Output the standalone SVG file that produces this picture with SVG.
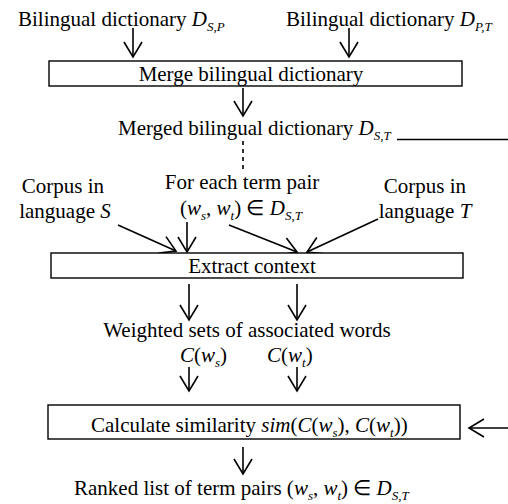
<svg xmlns="http://www.w3.org/2000/svg" width="508" height="504" viewBox="0 0 508 504">
<defs>
<style>
text{font-family:"Liberation Serif","Times New Roman",serif;font-size:21px;fill:#000}
.i{font-style:italic}
.sub{font-size:13px;font-style:italic}
.m{text-anchor:middle}
.box{fill:#fff;stroke:#000;stroke-width:1.4}
.c{stroke:#000;stroke-width:1.6;fill:none}
.a{marker-end:url(#ah)}
</style>
<marker id="ah" viewBox="-16 -10 18 20" markerWidth="18" markerHeight="20" refX="0" refY="0" orient="auto" markerUnits="userSpaceOnUse" overflow="visible">
<path d="M-15,-9 L0,0 L-15,9" fill="none" stroke="#000" stroke-width="1.6"/>
</marker>
</defs>
<rect width="508" height="504" fill="#fff"/>
<g id="connectors">
<line class="c a" x1="133" y1="28" x2="133" y2="57"/>
<line class="c a" x1="349" y1="28" x2="349" y2="57"/>
<line class="c a" x1="243" y1="88" x2="243" y2="116"/>
<line class="c" x1="397" y1="139.5" x2="508" y2="139.5"/>
<line class="c" x1="243" y1="141" x2="243" y2="172" stroke-dasharray="4,4"/>
<line class="c a" x1="118" y1="225" x2="176" y2="251"/>
<line class="c a" x1="187" y1="222" x2="187" y2="252"/>
<line class="c a" x1="229" y1="225" x2="297" y2="252"/>
<line class="c a" x1="378" y1="219" x2="307" y2="252"/>
<line class="c a" x1="189" y1="284" x2="189" y2="320"/>
<line class="c a" x1="297" y1="284" x2="297" y2="320"/>
<line class="c a" x1="189" y1="367" x2="189" y2="391"/>
<line class="c a" x1="297" y1="367" x2="297" y2="391"/>
<line class="c a" x1="508" y1="428" x2="469" y2="428"/>
<line class="c a" x1="243" y1="447" x2="243" y2="474"/>
</g>
<g id="dict-sp"><text x="18" y="26">Bilingual dictionary <tspan class="i">D</tspan><tspan class="sub" dy="5">S,P</tspan></text></g>
<g id="dict-pt"><text x="286" y="26">Bilingual dictionary <tspan class="i">D</tspan><tspan class="sub" dy="5">P,T</tspan></text></g>
<g id="merge"><rect class="box" x="49" y="61" width="413" height="25"/><text class="m" x="251" y="81">Merge bilingual dictionary</text></g>
<g id="merged"><text x="118" y="135">Merged bilingual dictionary <tspan class="i">D</tspan><tspan class="sub" dy="5">S,T</tspan></text></g>
<g id="corpus-s"><text class="m" x="63" y="193">Corpus in</text><text class="m" x="65" y="218">language <tspan class="i">S</tspan></text></g>
<g id="term-pair"><text class="m" x="242" y="189">For each term pair</text><text x="180" y="215">(<tspan class="i">w</tspan><tspan class="sub" dy="5">s</tspan><tspan dy="-5">,  </tspan><tspan class="i">w</tspan><tspan class="sub" dy="5">t</tspan><tspan dy="-5">) ∈ </tspan><tspan class="i">D</tspan><tspan class="sub" dy="5">S,T</tspan></text></g>
<g id="corpus-t"><text class="m" x="425" y="193">Corpus in</text><text class="m" x="425" y="218">language <tspan class="i">T</tspan></text></g>
<g id="extract"><rect class="box" x="51" y="253" width="412" height="25"/><text class="m" x="252" y="273">Extract context</text></g>
<g id="weighted"><text class="m" x="247" y="337">Weighted sets of associated words</text></g>
<g id="cws"><text x="180" y="362"><tspan class="i">C</tspan>(<tspan class="i">w</tspan><tspan class="sub" dy="5">s</tspan><tspan dy="-5">)</tspan></text></g>
<g id="cwt"><text x="267" y="362"><tspan class="i">C</tspan>(<tspan class="i">w</tspan><tspan class="sub" dy="5">t</tspan><tspan dy="-5">)</tspan></text></g>
<g id="similarity"><rect class="box" x="48" y="405" width="412" height="34"/><text x="91" y="432">Calculate similarity <tspan class="i">sim</tspan>(<tspan class="i">C</tspan>(<tspan class="i">w</tspan><tspan class="sub" dy="5">s</tspan><tspan dy="-5">), </tspan><tspan class="i">C</tspan>(<tspan class="i">w</tspan><tspan class="sub" dy="5">t</tspan><tspan dy="-5">))</tspan></text></g>
<g id="ranked"><text x="74" y="495">Ranked list of term pairs (<tspan class="i">w</tspan><tspan class="sub" dy="5">s</tspan><tspan dy="-5">, </tspan><tspan class="i">w</tspan><tspan class="sub" dy="5">t</tspan><tspan dy="-5">) ∈ </tspan><tspan class="i">D</tspan><tspan class="sub" dy="5">S,T</tspan></text></g>
</svg>
